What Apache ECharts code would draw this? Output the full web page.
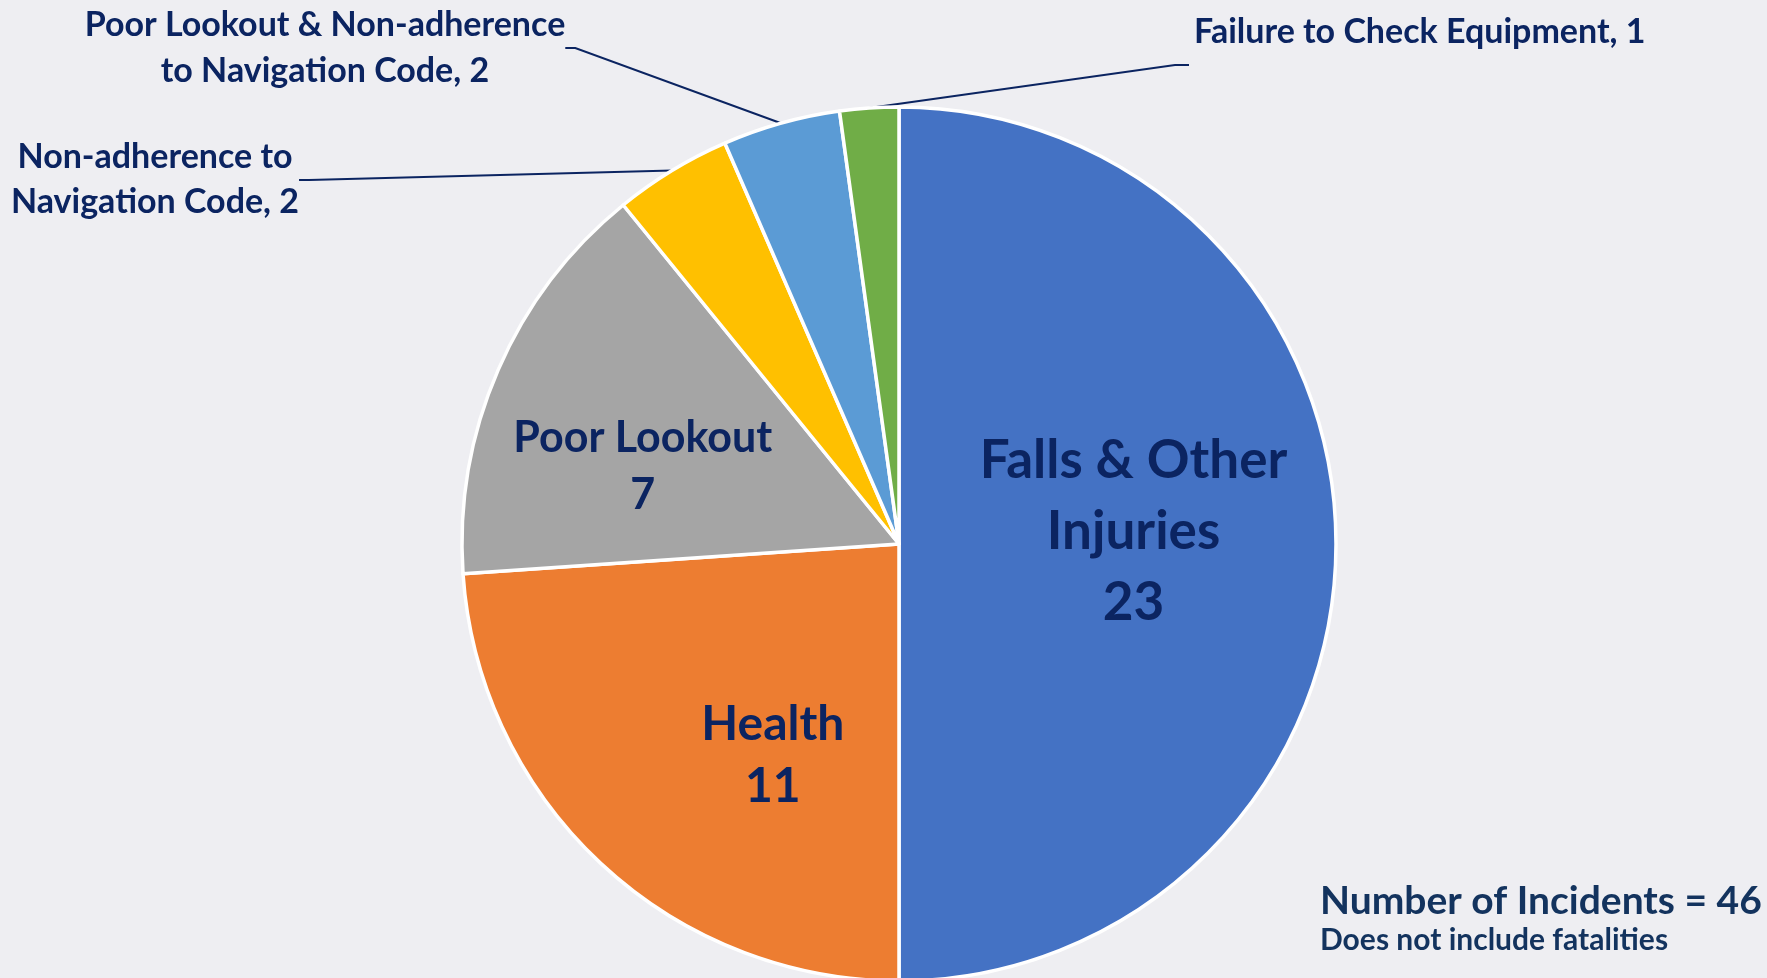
<!DOCTYPE html>
<html>
<head>
<meta charset="utf-8">
<script src="https://cdn.jsdelivr.net/npm/echarts@6/dist/echarts.min.js"></script>
<style>
html,body{margin:0;padding:0;background:#EEEEF2;}
#chart{width:1767px;height:978px;}
</style>
</head>
<body>
<div id="chart"></div>
<script>
const categories = [
  'Falls & Other Injuries',
  'Health',
  'Poor Lookout',
  'Non-adherence to Navigation Code',
  'Poor Lookout & Non-adherence to Navigation Code',
  'Failure to Check Equipment'
];
const values = [23, 11, 7, 2, 2, 1];
const labelTexts = [
  'Falls & Other\nInjuries\n{v}',
  'Health\n{v}',
  'Poor Lookout\n{v}',
  'Non-adherence to\nNavigation Code, {v}',
  'Poor Lookout & Non-adherence\nto Navigation Code, {v}',
  'Failure to Check Equipment, {v}'
];
const colors = ['#4472C4', '#ED7D31', '#A5A5A5', '#FFC000', '#5B9BD5', '#70AD47'];
const noteTitle = 'Number of Incidents = 46';
const noteSub = 'Does not include fatalities';

const navy = '#0B2461';
const fontFam = 'Lato, "Noto Sans", sans-serif';

// label styling per item (style only)
const labelStyles = [
  {position: 'inside', fontSize: 53, lineHeight: 71},
  {position: 'inside', fontSize: 48, lineHeight: 62},
  {position: 'inside', fontSize: 43, lineHeight: 57},
  {position: 'outside', fontSize: 34, lineHeight: 45},
  {position: 'outside', fontSize: 34, lineHeight: 46},
  {position: 'outside', fontSize: 34, lineHeight: 40}
];
// placement adjustments for labels
const labelPlace = [
  {dx: 13, dy: -12},
  {dx: 25, dy: 50},
  {dx: -53, dy: 11},
  {x: 155, y: 180, align: 'center'},
  {x: 325, y: 48, align: 'center'},
  {x: 1194, y: 32, align: 'left', elbow: [[1175, 65], [1189, 65]]}
];

const chart = echarts.init(document.getElementById('chart'), null, {renderer: 'canvas'});

const data = categories.map((name, i) => ({
  name: name,
  value: values[i],
  itemStyle: {color: colors[i]},
  label: {
    position: labelStyles[i].position,
    fontSize: labelStyles[i].fontSize,
    lineHeight: labelStyles[i].lineHeight,
    formatter: labelTexts[i].replace('{v}', values[i])
  }
}));

chart.setOption({
  backgroundColor: '#EEEEF2',
  animation: false,
  title: {
    text: noteTitle,
    subtext: noteSub,
    left: 1315,
    top: 877,
    itemGap: 4,
    textStyle: {color: '#13335E', fontFamily: fontFam, fontWeight: 'bold', fontSize: 39},
    subtextStyle: {color: '#13335E', fontFamily: fontFam, fontWeight: 'bold', fontSize: 30}
  },
  series: [{
    type: 'pie',
    center: [899, 544],
    radius: [0, 437],
    startAngle: 90,
    clockwise: true,
    avoidLabelOverlap: false,
    itemStyle: {borderColor: '#FFFFFF', borderWidth: 3.5},
    label: {
      color: navy,
      fontFamily: fontFam,
      fontWeight: 'bold',
      align: 'center'
    },
    labelLine: {
      show: true,
      length: 10,
      length2: 10,
      lineStyle: {color: navy, width: 2}
    },
    labelLayout: function (params) {
      const p = labelPlace[params.dataIndex];
      if (p.x !== undefined) {
        const out = {x: p.x, y: p.y, align: p.align, verticalAlign: 'middle'};
        if (p.elbow && params.labelLinePoints) {
          out.labelLinePoints = [params.labelLinePoints[0]].concat(p.elbow);
        }
        return out;
      }
      return {dx: p.dx, dy: p.dy};
    },
    data: data
  }]
});
</script>
</body>
</html>
